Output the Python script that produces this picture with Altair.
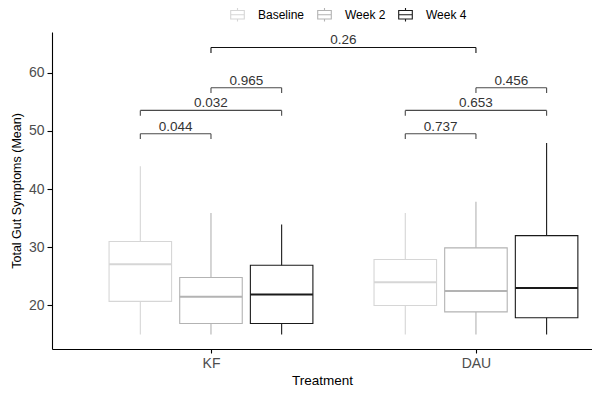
import json
import altair as alt
import pandas as pd

# ---------------- data ----------------
treatments = ["KF", "DAU"]
timepoints = ["Baseline", "Week 2", "Week 4"]

# one value per (treatment, timepoint): KF Baseline, KF Week 2, KF Week 4, DAU Baseline, DAU Week 2, DAU Week 4
box_treatment = ["KF", "KF", "KF", "DAU", "DAU", "DAU"]
box_timepoint = ["Baseline", "Week 2", "Week 4", "Baseline", "Week 2", "Week 4"]
whisker_low = [15.0, 15.0, 15.0, 15.0, 15.0, 15.0]
q1 = [20.7, 16.9, 16.9, 20.0, 18.9, 17.9]
median = [27.1, 21.5, 21.9, 24.0, 22.5, 23.0]
q3 = [31.0, 24.8, 26.9, 27.9, 29.9, 32.0]
whisker_high = [43.9, 35.9, 33.9, 35.9, 37.8, 47.9]

# significance brackets (timepoint "" = centre of the treatment group)
bracket_from_treatment = ["KF", "KF", "KF", "DAU", "DAU", "DAU", "KF"]
bracket_from_timepoint = ["Baseline", "Baseline", "Week 2", "Baseline", "Baseline", "Week 2", ""]
bracket_to_treatment = ["KF", "KF", "KF", "DAU", "DAU", "DAU", "DAU"]
bracket_to_timepoint = ["Week 2", "Week 4", "Week 4", "Week 2", "Week 4", "Week 4", ""]
bracket_level = [49.5, 53.5, 57.4, 49.5, 53.5, 57.4, 64.3]
bracket_label = ["0.044", "0.032", "0.965", "0.737", "0.653", "0.456", "0.26"]

y_ticks = [20, 30, 40, 50, 60]

# ---------------- layout helpers ----------------
DODGE = 0.8 / 3
HALF_BOX = 0.118
TIP = 0.93
colors = ["#d6d6d6", "#b3b3b3", "#1a1a1a"]
FONT = "Liberation Sans"


def xpos(treatment, timepoint):
    off = 0.0 if timepoint == "" else (timepoints.index(timepoint) - 1) * DODGE
    return treatments.index(treatment) + 1 + off


boxes = pd.DataFrame({
    "treatment": box_treatment,
    "timepoint": box_timepoint,
    "whisker_low": whisker_low,
    "q1": q1,
    "median": median,
    "q3": q3,
    "whisker_high": whisker_high,
})
boxes["x"] = [xpos(t, p) for t, p in zip(box_treatment, box_timepoint)]
boxes["x_lo"] = boxes["x"] - HALF_BOX
boxes["x_hi"] = boxes["x"] + HALF_BOX

br = pd.DataFrame({
    "from_t": bracket_from_treatment,
    "to_t": bracket_to_treatment,
    "level": bracket_level,
    "label": bracket_label,
})
br["x1"] = [xpos(t, p) for t, p in zip(bracket_from_treatment, bracket_from_timepoint)]
br["x2"] = [xpos(t, p) for t, p in zip(bracket_to_treatment, bracket_to_timepoint)]
br["xm"] = (br["x1"] + br["x2"]) / 2
br["cross"] = br["from_t"] != br["to_t"]

tips = pd.concat([
    br[["x1", "level", "cross"]].rename(columns={"x1": "x"}),
    br[["x2", "level", "cross"]].rename(columns={"x2": "x"}),
], ignore_index=True)
tips["tip_end"] = tips["level"] - TIP

# ---------------- scales / axes ----------------
x_scale = alt.Scale(domain=[0.4, 2.438], nice=False, zero=False)
y_scale = alt.Scale(domain=[12.53, 66.96], nice=False, zero=False)
label_expr = "%s[datum.value - 1]" % json.dumps(treatments)
x_axis = alt.Axis(values=[1, 2], labelExpr=label_expr, title="Treatment", grid=False,
                  tickSize=4, labelPadding=3, titlePadding=3, labelFontSize=14,
                  titleFontSize=13.5)
y_axis = alt.Axis(values=y_ticks, title="Total Gut Symptoms (Mean)", grid=False,
                  tickSize=5, labelPadding=3, titlePadding=5, labelFontSize=14,
                  titleFontSize=12.5)

legend_path = "M-0.8,-0.5H0.8V0.5H-0.8Z M-0.8,0H0.8 M0,-0.5V-0.8 M0,0.5V0.8"
color_enc = alt.Color(
    "timepoint:N",
    scale=alt.Scale(domain=timepoints, range=colors),
    legend=alt.Legend(title=None, orient="none", direction="horizontal",
                      legendX=176, legendY=-27, padding=0, symbolType=legend_path,
                      symbolSize=289, symbolFillColor="white", symbolStrokeWidth=1.1,
                      labelOffset=11, columnPadding=10, labelFontSize=12,
                      labelColor="black", labelFont=FONT),
)


def X(field):
    return alt.X(field, scale=x_scale, axis=x_axis)


def Y(field):
    return alt.Y(field, scale=y_scale, axis=y_axis)


base = alt.Chart(boxes)
whisk_lo = base.mark_rule(strokeWidth=1.1).encode(
    x=X("x:Q"), y=Y("whisker_low:Q"), y2="q1:Q", color=color_enc)
whisk_hi = base.mark_rule(strokeWidth=1.1).encode(
    x=X("x:Q"), y=Y("q3:Q"), y2="whisker_high:Q", color=color_enc)
box = base.mark_rect(filled=False, strokeWidth=1.1).encode(
    x=X("x_lo:Q"), x2="x_hi:Q", y=Y("q1:Q"), y2="q3:Q", color=color_enc)
med = base.mark_rule(strokeWidth=2).encode(
    x=X("x_lo:Q"), x2="x_hi:Q", y=Y("median:Q"), color=color_enc)

br_color = alt.condition("datum.cross", alt.value("#111111"), alt.value("#4a4a4a"))
br_h = alt.Chart(br).mark_rule(strokeWidth=1.1).encode(
    x=X("x1:Q"), x2="x2:Q", y=Y("level:Q"), color=br_color)
br_t = alt.Chart(tips).mark_rule(strokeWidth=1.1).encode(
    x=X("x:Q"), y=Y("level:Q"), y2="tip_end:Q", color=br_color)
br_txt = alt.Chart(br).mark_text(dy=-3, baseline="alphabetic", fontSize=13.5,
                                 font=FONT, color="#333333").encode(
    x=X("xm:Q"), y=Y("level:Q"), text="label:N")

chart = alt.layer(whisk_lo, whisk_hi, box, med, br_h, br_t, br_txt).properties(
    width=540, height=317,
    autosize=alt.AutoSizeParams(type="none"),
    padding={"left": 44, "top": 24, "right": 0, "bottom": 38},
).configure_view(stroke=None).configure_axis(
    domainColor="black", domainWidth=1.1, tickColor="black", tickWidth=1.1,
    labelColor="#4d4d4d", titleColor="black", labelFont=FONT, titleFont=FONT,
    titleFontWeight="normal",
)

chart.save("out.html", embed_options={"renderer": "svg", "actions": False})
